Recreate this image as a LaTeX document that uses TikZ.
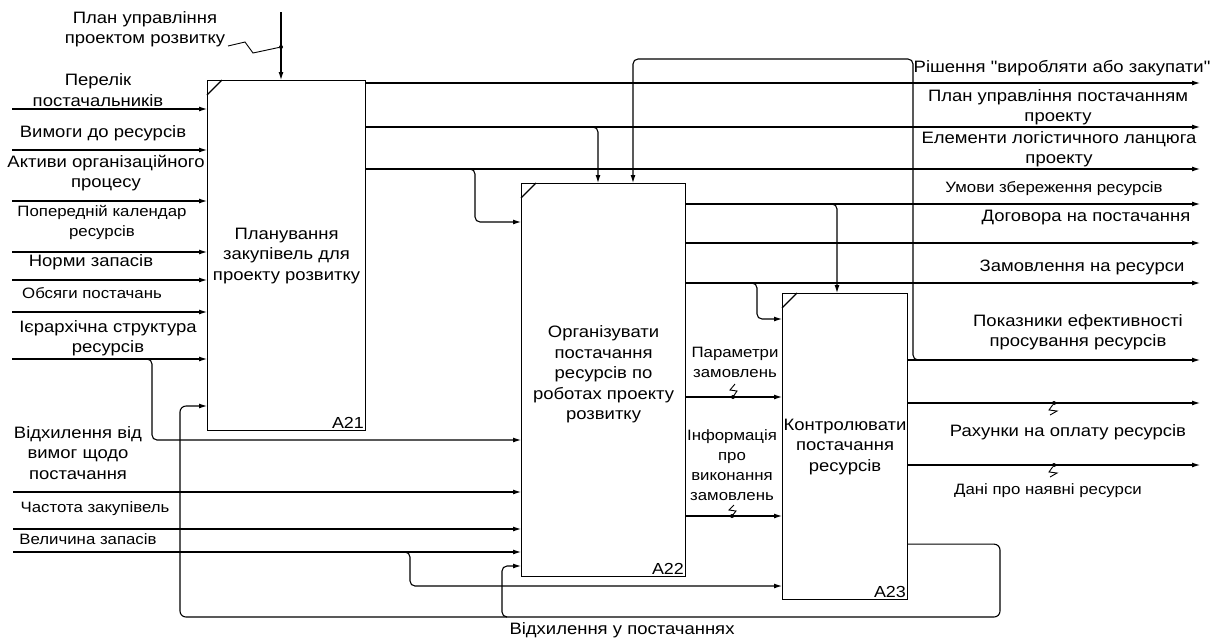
\documentclass[tikz,border=0pt]{standalone}
\usepackage{fontspec}
\setmainfont{Liberation Sans}[FakeStretch=1.12,Ligatures=TeXOff]
\usetikzlibrary{arrows.meta,positioning,calc}
\tikzset{
 fbox/.style={draw,line width=1.1pt,inner sep=0pt,align=center,anchor=north west,
             font=\fontsize{16.5}{20.5}\selectfont},
 arrow/.style={-{Latex[length=8pt,width=5pt]},line width=1.1pt},
 branch/.style={arrow,rounded corners=5pt},
 conn/.style={line width=1.1pt},
 squig/.style={line width=0.9pt},
 lbl/.style={align=center,inner sep=0pt,font=\fontsize{16.5}{20.5}\selectfont},
 slbl/.style={align=center,inner sep=0pt,font=\fontsize{15}{20}\selectfont},
 boxid/.style={anchor=south east,inner sep=2pt,font=\fontsize{16}{18}\selectfont},
 dot/.style={circle,fill,inner sep=0pt,minimum size=4pt}
}
\begin{document}
\begin{tikzpicture}[x=1pt,y=-1pt]
\useasboundingbox (0,0) rectangle (1214,641);
% activity boxes
\node[fbox,minimum width=158pt,minimum height=350pt] (a21) at (207,80) {Планування\\закупівель для\\проекту розвитку};
\node[fbox,minimum width=164pt,minimum height=393pt] (a22) at (521,183) {Організувати\\постачання\\ресурсів по\\роботах проекту\\розвитку\\[-6pt]};
\node[fbox,minimum width=125pt,minimum height=306pt] (a23) at (782,293) {Контролювати\\постачання\\ресурсів};
\foreach \b/\t in {a21/A21,a22/A22,a23/A23}{
  \node[boxid] at (\b.south east) {\t};
  \draw[conn] ($(\b.north west)+(0,15)$) -- ++(15,-15);
}

% control of A21
\coordinate (ctl) at (281,12);
\draw[arrow] (ctl) -- (ctl |- a21.north);
\node[dot] (j1) at (281,47) {};
\node[lbl] (ctltxt) at (145,29) {План управління\\проектом розвитку};
\draw[squig] ($(j1)+(-53,-1)$) -- ++(17,-4) -- ++(8,11) -- (j1);

% inputs of A21
\foreach \yy [count=\i] in {109,150,201,252,280,312,359}{
  \coordinate (in\i) at (12,\yy);
  \draw[arrow] (in\i) -- (in\i -| a21.west);
}
\node[lbl] at (98,90) {Перелік\\постачальників};
\node[lbl] at (103,133) {Вимоги до ресурсів};
\node[lbl] at (106,173) {Активи організаційного\\процесу};
\node[slbl] at (102,222) {Попередній календар\\ресурсів};
\node[lbl] at (91,262) {Норми запасів};
\node[slbl] at (92,293) {Обсяги постачань};
\node[lbl] at (108,338) {Ієрархічна структура\\ресурсів};

% inputs of A22
\foreach \yy [count=\i from 8] in {492,529,552}{
  \coordinate (in\i) at (13,\yy);
  \draw[arrow] (in\i) -- (in\i -| a22.west);
}
\node[lbl] at (78,453) {Відхилення від\\вимог щодо\\постачання};
\node[slbl] at (95,509) {Частота закупівель};
\node[slbl] at (88,539) {Величина запасів};
\coordinate (br1) at (152,440);
\draw[branch] ($(br1 |- in7)+(-5,0)$) -| (br1) -- (br1 -| a22.west);
\coordinate (br2) at (410,586);
\draw[branch] ($(br2 |- in10)+(-5,0)$) -| (br2) -- (br2 -| a23.west);

% outputs
\foreach \yy [count=\i] in {83,127,169}{
  \coordinate (out\i) at (1200,\yy);
  \draw[arrow] (out\i -| a21.east) -- (out\i);
}
\foreach \yy [count=\i from 4] in {204,243,283}{
  \coordinate (out\i) at (1200,\yy);
  \draw[arrow] (out\i -| a22.east) -- (out\i);
}
\foreach \yy [count=\i from 7] in {360,403,465}{
  \coordinate (out\i) at (1200,\yy);
  \draw[arrow] (out\i -| a23.east) -- (out\i);
}
\node[lbl] at (1062,68) {Рішення "виробляти або закупати"};
\node[lbl] at (1058,107) {План управління постачанням\\проекту};
\node[lbl] at (1059,149) {Елементи логістичного ланцюга\\проекту};
\node[slbl] at (1054,189) {Умови збереження ресурсів};
\node[lbl] at (1086,218) {Договора на постачання};
\node[lbl] at (1082,267) {Замовлення на ресурси};
\node[lbl] at (1078,332) {Показники ефективності\\просування ресурсів};
\node[lbl] (rah) at (1068,432) {Рахунки на оплату ресурсів};
\node[slbl] (dani) at (1048,491) {Дані про наявні ресурси};
\node[dot] (j2) at (1054,403) {};
\draw[squig] (j2) -- ++(-5,7) -- ++(8,1) -- ++(-7,4);
\node[dot] (j3) at (1054,465) {};
\draw[squig] (j3) -- ++(-5,7) -- ++(8,1) -- ++(-7,4);

% branches to A22 and A23
\coordinate (br3) at (598,127);
\draw[branch] ($(br3)+(-5,0)$) -| (br3 |- a22.north);
\coordinate (br4) at (475,222);
\draw[branch] ($(br4 |- out3)+(-5,0)$) -| (br4) -- (br4 -| a22.west);
\coordinate (br5) at (837,204);
\draw[branch] ($(br5)+(-5,0)$) -| (br5 |- a23.north);
\coordinate (br6) at (757,319);
\draw[branch] ($(br6 |- out6)+(-5,0)$) -| (br6) -- (br6 -| a23.west);
\coordinate (br7) at (913,59);
\coordinate (br8) at (633,59);
\draw[branch] ($(br7 |- out7)+(5,0)$) -| (br7) -| (br8 |- a22.north);

% A22 to A23
\coordinate (prm) at (733,397);
\draw[arrow] (prm -| a22.east) -- (prm -| a23.west);
\node[dot] at (prm) {};
\draw[squig] (prm) -- ++(4,-6) -- ++(-7,-1) -- ++(5,-6);
\node[slbl] at (735,362) {Параметри\\замовлень};
\coordinate (inf) at (732,516);
\draw[arrow] (inf -| a22.east) -- (inf -| a23.west);
\node[dot] at (inf) {};
\draw[squig] (inf) -- ++(4,-5) -- ++(-7,-1) -- ++(5,-5);
\node[slbl] at (732,465) {Інформація\\про\\виконання\\замовлень};

% feedback
\coordinate (fb1) at (1000,617);
\coordinate (fb2) at (180,406);
\draw[branch,rounded corners=6pt] ($(a23.south east)+(0,-56)$) -| (fb1) -| (fb2) -- (fb2 -| a21.west);
\coordinate (fb3) at (502,566);
\draw[branch] ($(fb3 |- fb1)+(5,0)$) -| (fb3) -- (fb3 -| a22.west);
\node[lbl] at (622,630) {Відхилення у постачаннях};
\end{tikzpicture}
\end{document}
